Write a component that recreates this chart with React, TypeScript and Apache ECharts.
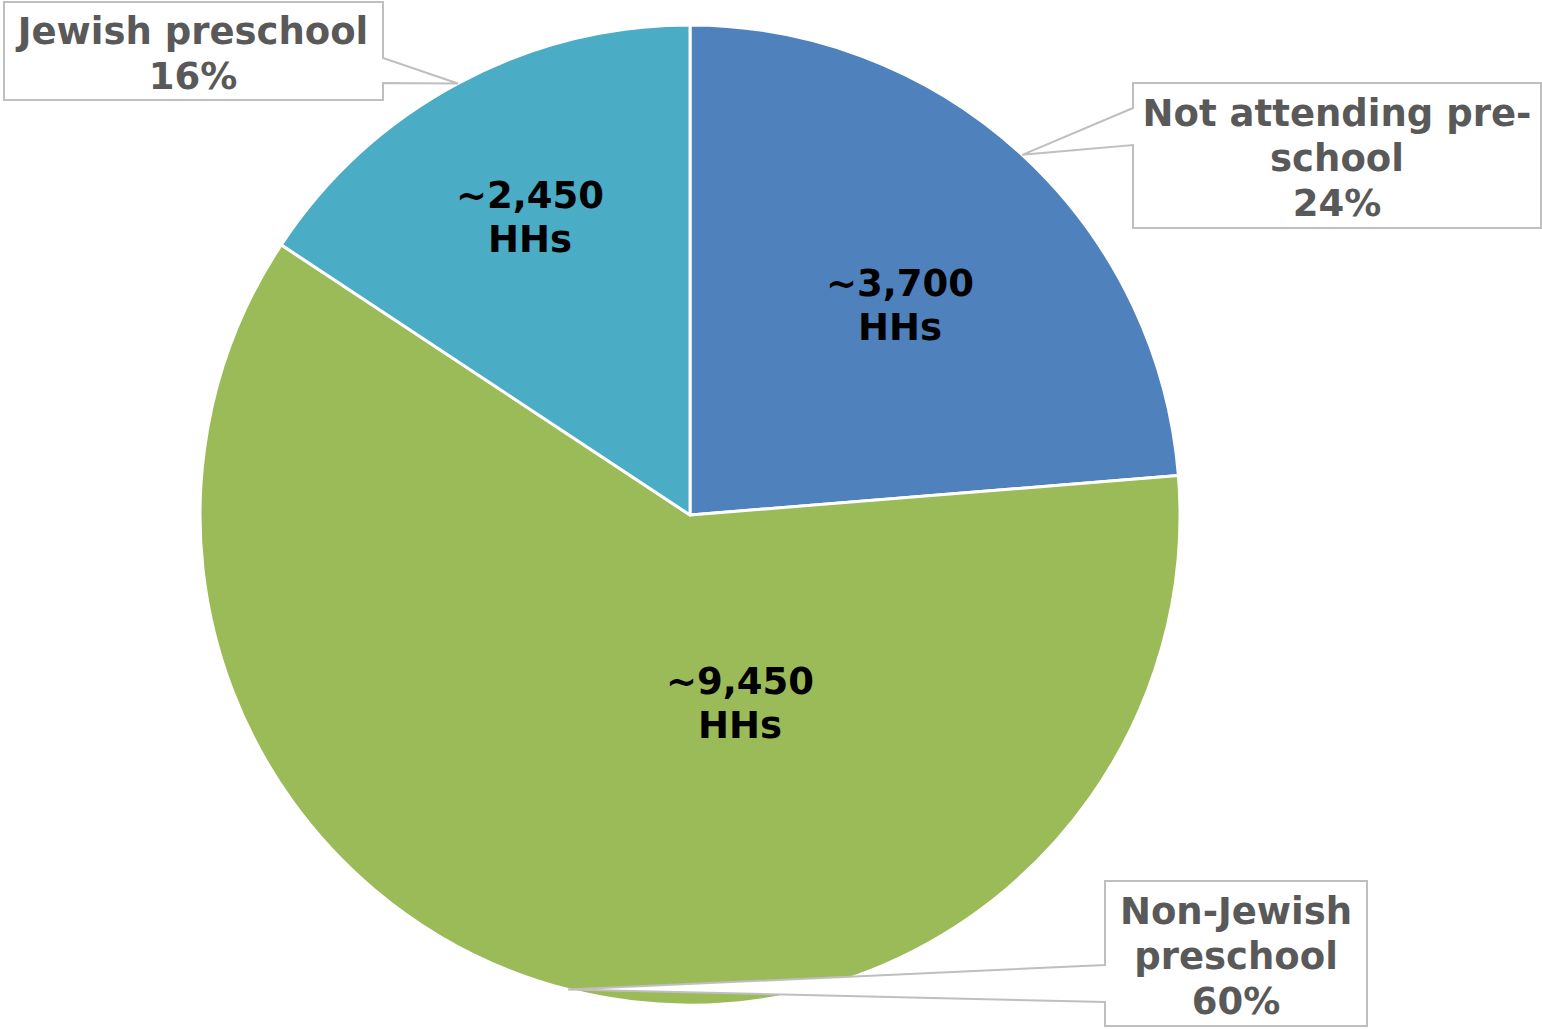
import React, { useEffect, useRef } from "react";
import * as echarts from "echarts";

// ---- data ----
const categories = ["Not attending pre-school", "Non-Jewish preschool", "Jewish preschool"];
const households = [3700, 9450, 2450];
const householdLabels = ["~3,700", "~9,450", "~2,450"];
const percentLabels = ["24%", "60%", "16%"];
const calloutNames = ["Not attending pre-\nschool", "Non-Jewish\npreschool", "Jewish preschool"];
const colors = ["#4F81BD", "#9BBB59", "#4BACC6"];

// ---- layout (positions only) ----
const innerLabelPos = [
  [900, 305],
  [740, 703],
  [530, 217],
];
const calloutBoxes = [
  { x: 1133, y: 83, w: 408, h: 145, side: "left", b1: 108, b2: 145, cx: 1337, cy: 158 },
  { x: 1105, y: 881, w: 262, h: 145, side: "left", b1: 965, b2: 1002, cx: 1236, cy: 956 },
  { x: 4, y: 2, w: 379, h: 98, side: "right", b1: 58, b2: 83, cx: 193, cy: 54 },
];
const CENTER: [number, number] = [690, 515];
const RADIUS = 490;

export default function App() {
  const ref = useRef<HTMLDivElement>(null);
  useEffect(() => {
    if (!ref.current) return;
    const chart = echarts.init(ref.current, null, { renderer: "svg" });
    const data = categories.map((name, i) => ({ name, value: households[i], itemStyle: { color: colors[i] } }));
    chart.setOption({
      animation: false,
      backgroundColor: "#ffffff",
      series: [
        {
          type: "pie",
          z: 2,
          center: CENTER,
          radius: RADIUS,
          startAngle: 90,
          clockwise: true,
          silent: true,
          data,
          itemStyle: { borderColor: "#ffffff", borderWidth: 3 },
          label: {
            show: true,
            position: "inside",
            formatter: (p: any) => householdLabels[p.dataIndex] + "\nHHs",
            fontFamily: "DejaVu Sans",
            fontWeight: "bold",
            fontSize: 37,
            lineHeight: 44,
            color: "#000000",
            align: "center",
          },
          labelLine: { show: false },
          labelLayout: (p: any) => ({
            x: innerLabelPos[p.dataIndex][0],
            y: innerLabelPos[p.dataIndex][1],
            align: "center",
            verticalAlign: "middle",
          }),
          emphasis: { disabled: true },
        },
        {
          type: "pie",
          z: 4,
          center: CENTER,
          radius: RADIUS,
          startAngle: 90,
          clockwise: true,
          silent: true,
          data: categories.map((name, i) => ({ name, value: households[i] })),
          itemStyle: { color: "rgba(0,0,0,0)", borderWidth: 0 },
          label: {
            show: true,
            position: "inside",
            formatter: (p: any) => calloutNames[p.dataIndex] + "\n" + percentLabels[p.dataIndex],
            fontFamily: "DejaVu Sans",
            fontWeight: "bold",
            fontSize: 37,
            lineHeight: 45,
            color: "#595959",
            align: "center",
          },
          labelLine: { show: false },
          labelLayout: (p: any) => {
            const b = calloutBoxes[p.dataIndex];
            return { x: b.cx, y: b.cy, align: "center", verticalAlign: "middle" };
          },
          emphasis: { disabled: true },
        },
      ],
    });

    const anchors: number[][] = [];
    try {
      const sd = (chart as any).getModel().getSeriesByIndex(0).getData();
      for (let i = 0; i < categories.length; i++) {
        const l = sd.getItemLayout(i);
        const mid = (l.startAngle + l.endAngle) / 2;
        anchors.push([l.cx + l.r * Math.cos(mid), l.cy + l.r * Math.sin(mid)]);
      }
    } catch (e) {
      const total = households.reduce((a, b) => a + b, 0);
      let acc = 0;
      for (let i = 0; i < households.length; i++) {
        const mid = -Math.PI / 2 + ((acc + households[i] / 2) / total) * Math.PI * 2;
        acc += households[i];
        anchors.push([CENTER[0] + RADIUS * Math.cos(mid), CENTER[1] + RADIUS * Math.sin(mid)]);
      }
    }

    const graphics = calloutBoxes.map((b, i) => {
      const a = anchors[i];
      const pts =
        b.side === "left"
          ? [
              [b.x, b.y],
              [b.x + b.w, b.y],
              [b.x + b.w, b.y + b.h],
              [b.x, b.y + b.h],
              [b.x, b.b2],
              a,
              [b.x, b.b1],
            ]
          : [
              [b.x, b.y],
              [b.x + b.w, b.y],
              [b.x + b.w, b.b1],
              a,
              [b.x + b.w, b.b2],
              [b.x + b.w, b.y + b.h],
              [b.x, b.y + b.h],
            ];
      return {
        type: "polygon",
        z: 3,
        silent: true,
        shape: { points: pts },
        style: { fill: "#ffffff", stroke: "#BFBFBF", lineWidth: 2 },
      };
    });
    chart.setOption({ graphic: graphics });

    return () => chart.dispose();
  }, []);
  return (
    <div
      ref={ref}
      style={{ position: "fixed", left: 0, top: 0, width: 1542, height: 1029 }}
    />
  );
}
